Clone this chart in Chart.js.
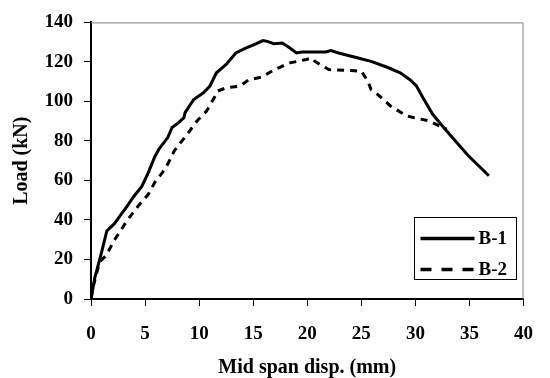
<!DOCTYPE html>
<html>
<head>
<meta charset="utf-8">
<script src="https://cdn.jsdelivr.net/npm/chart.js@4"></script>
<style>
  html, body { margin: 0; padding: 0; background: #fff; }
  #wrap { width: 550px; height: 378px; }
</style>
</head>
<body>
<div id="wrap"><canvas id="loadChart"></canvas></div>
<script>
const b1Disp = [0, 0.36, 0.9, 1.46, 2.15, 2.8, 3.35, 3.9, 4.7, 5.3, 5.9, 6.3, 7.1, 7.5, 8.1, 8.6, 8.7, 9.5, 10.4, 11, 11.6, 12.5, 13.4, 14.3, 15.2, 15.9, 16.3, 16.9, 17.7, 18.4, 19.0, 19.5, 21.7, 22.2, 22.9, 24.7, 25.9, 27.4, 28.6, 29.5, 30.1, 30.7, 31.6, 32.5, 33.7, 34.9, 36.8];
const b1Load = [0, 11, 22, 34.4, 38, 43, 47, 51.5, 57, 64, 72, 76, 81.7, 86.8, 89.3, 91.8, 94.3, 101, 104.4, 107.8, 114.5, 118.7, 124.5, 127, 129, 130.8, 130.4, 129.2, 129.6, 127, 124.5, 125, 125, 125.7, 124.5, 122, 120.3, 117.3, 114.5, 111, 107.8, 101.9, 93.5, 87.6, 80, 72.5, 62.4];

const b2Disp = [0, 0.2, 0.8, 1.4, 2.15, 3.35, 4.4, 5.3, 5.9, 6.6, 7.1, 7.7, 8.9, 9.8, 10.7, 11.4, 11.7, 12.5, 13.8, 14.6, 15.8, 16.95, 18.4, 19.9, 20.4, 20.7, 22.0, 24.1, 25.0, 25.6, 25.9, 26.5, 27.7, 29.2, 30.1, 31.3, 32.2, 32.9];
const b2Load = [0, 6.2, 18.8, 22, 29.7, 39.8, 47.3, 53, 59, 64, 68.3, 75, 83.4, 90.1, 95.2, 101.9, 105.2, 106.9, 107.8, 111, 112.3, 116.1, 119.5, 121.2, 122, 120.3, 116.1, 115.6, 115.3, 110.3, 106, 103.6, 97.7, 92.6, 91.5, 90.1, 87.6, 86];

const seriesNames = ["B-1", "B-2"];
const xTitle = "Mid span disp. (mm)";
const yTitle = "Load (kN)";

const serif = "'Liberation Serif', 'Times New Roman', serif";

function points(xs, ys) {
    return xs.map((x, i) => ({ x: x, y: ys[i] }));
}

// gray frame on top/right plus the boxed legend in the lower right
const frameAndLegend = {
    id: "frameAndLegend",
    afterDraw(chart) {
        const { ctx, chartArea: a } = chart;
        ctx.save();
        ctx.strokeStyle = "#808080";
        ctx.lineWidth = 1;
        ctx.beginPath();
        ctx.moveTo(a.left, a.top + 0.5);
        ctx.lineTo(a.right - 0.5, a.top + 0.5);
        ctx.lineTo(a.right - 0.5, a.bottom);
        ctx.stroke();

        const bx = 414.5, by = 217.5, bw = 102, bh = 62;
        ctx.strokeStyle = "#000";
        ctx.lineWidth = 1;
        ctx.fillStyle = "#fff";
        ctx.fillRect(bx, by, bw, bh);
        ctx.strokeRect(bx, by, bw, bh);

        ctx.font = "bold 19px " + serif;
        ctx.textBaseline = "middle";
        ctx.fillStyle = "#000";
        chart.data.datasets.forEach((ds, i) => {
            const y = by + 21 + i * 31;
            ctx.lineWidth = 3.5;
            ctx.setLineDash(i === 1 ? [11, 10] : []);
            ctx.beginPath();
            ctx.moveTo(bx + 6, y);
            ctx.lineTo(bx + 60, y);
            ctx.stroke();
            ctx.setLineDash([]);
            ctx.fillText(ds.label, bx + 64, y + 1);
        });
        ctx.restore();
    }
};

new Chart(document.getElementById("loadChart"), {
    type: "scatter",
    data: {
        datasets: [{
            label: seriesNames[0],
            data: points(b1Disp, b1Load),
            showLine: true,
            borderColor: "#000",
            borderWidth: 3,
            pointRadius: 0,
            tension: 0
        }, {
            label: seriesNames[1],
            data: points(b2Disp, b2Load),
            showLine: true,
            borderColor: "#000",
            borderWidth: 3,
            borderDash: [7, 6],
            pointRadius: 0,
            tension: 0
        }]
    },
    options: {
        responsive: true,
        maintainAspectRatio: false,
        animation: false,
        layout: { padding: { top: 21, right: 13, left: 0, bottom: 0 } },
        plugins: {
            legend: { display: false },
            tooltip: { enabled: false }
        },
        scales: {
            x: {
                type: "linear",
                min: 0,
                max: 40,
                afterFit: s => { s.height = 79; },
                ticks: {
                    stepSize: 5,
                    color: "#000",
                    padding: 17,
                    font: { family: serif, size: 19, weight: "bold" }
                },
                grid: { drawOnChartArea: false, drawTicks: true, tickLength: 7, color: "#000", lineWidth: 1 },
                border: { color: "#000", width: 2 },
                title: {
                    display: true,
                    text: xTitle,
                    color: "#000",
                    padding: { top: 0, bottom: 0 },
                    font: { family: serif, size: 20, weight: "bold", lineHeight: 1 }
                }
            },
            y: {
                min: 0,
                max: 140,
                afterFit: s => { s.width = 91; },
                ticks: {
                    stepSize: 20,
                    color: "#000",
                    padding: 11,
                    font: { family: serif, size: 19, weight: "bold" }
                },
                grid: { drawOnChartArea: false, drawTicks: true, tickLength: 7, color: "#000", lineWidth: 1 },
                border: { color: "#000", width: 2 },
                title: {
                    display: true,
                    text: yTitle,
                    color: "#000",
                    padding: { top: 12, bottom: 0 },
                    font: { family: serif, size: 20, weight: "bold", lineHeight: 1 }
                }
            }
        }
    },
    plugins: [frameAndLegend]
});
</script>
</body>
</html>
